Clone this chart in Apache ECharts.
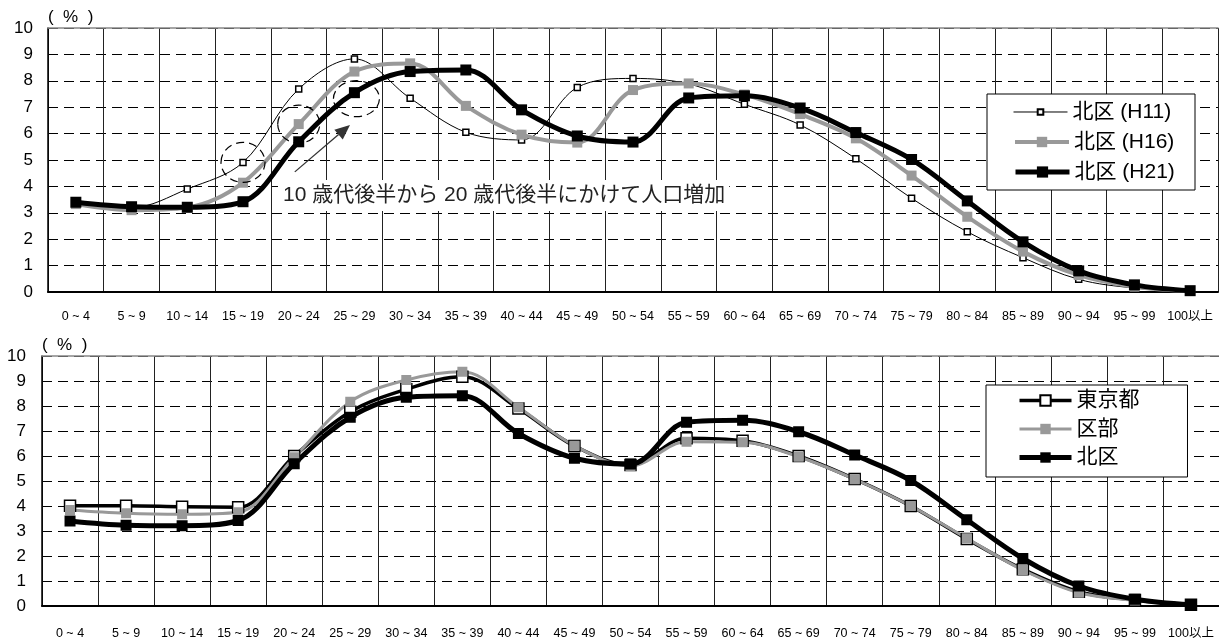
<!DOCTYPE html>
<html>
<head>
<meta charset="utf-8">
<script src="https://cdn.jsdelivr.net/npm/echarts@6/dist/echarts.min.js"></script>
<style>
  html, body { margin: 0; padding: 0; background: #fff; }
  #chart { width: 1219px; height: 640px; }
</style>
</head>
<body>
<div id="chart"></div>
<script>
// Age groups (5-year bands)
const ages = ['0 ~ 4', '5 ~ 9', '10 ~ 14', '15 ~ 19', '20 ~ 24', '25 ~ 29', '30 ~ 34',
  '35 ~ 39', '40 ~ 44', '45 ~ 49', '50 ~ 54', '55 ~ 59', '60 ~ 64', '65 ~ 69',
  '70 ~ 74', '75 ~ 79', '80 ~ 84', '85 ~ 89', '90 ~ 94', '95 ~ 99', '100以上'];

// Share of population by age group (%) — Kita ward, three survey years
const kitaH11 = [3.35, 3.20, 3.90, 4.91, 7.69, 8.83, 7.34, 6.05, 5.76, 7.75, 8.09,
  7.88, 7.11, 6.33, 5.05, 3.55, 2.28, 1.30, 0.48, 0.15, 0.03];
const kitaH16 = [3.33, 3.10, 3.20, 4.14, 6.36, 8.35, 8.66, 7.05, 5.96, 5.66, 7.65,
  7.90, 7.48, 6.74, 5.82, 4.41, 2.85, 1.53, 0.64, 0.20, 0.04];
const kitaH21 = [3.40, 3.23, 3.21, 3.42, 5.69, 7.55, 8.35, 8.41, 6.90, 5.91, 5.68,
  7.35, 7.43, 6.97, 6.04, 5.02, 3.45, 1.90, 0.80, 0.27, 0.05];

// Share of population by age group (%) — Tokyo, 23 wards, Kita ward (H21)
const tokyo = [4.01, 4.01, 3.97, 3.95, 6.00, 7.77, 8.67, 9.17, 7.90, 6.40, 5.64,
  6.71, 6.61, 6.00, 5.08, 4.00, 2.68, 1.47, 0.57, 0.24, 0.05];
const kubu = [3.84, 3.71, 3.67, 3.75, 5.95, 8.17, 9.04, 9.37, 7.95, 6.41, 5.60,
  6.57, 6.55, 5.97, 5.07, 4.00, 2.71, 1.44, 0.53, 0.22, 0.04];
const kita = kitaH21;

const yTicks = { min: 0, max: 10, interval: 1 };

const FONT = "'Liberation Sans', 'Noto Sans CJK JP', sans-serif";
const SMOOTH = 0.35;

function bottomAxis(gridIndex, labelMargin) {
  return {
    type: 'category', gridIndex, data: ages, boundaryGap: true, position: 'bottom',
    axisLine: { show: true, lineStyle: { color: '#000', width: 2 } },
    axisTick: { show: false },
    axisLabel: { interval: 0, fontSize: 12.5, color: '#000', fontFamily: FONT, margin: labelMargin },
    splitLine: { show: true, interval: 0, lineStyle: { color: '#222', width: 1 } }
  };
}
function topBorder(gridIndex) {
  return {
    type: 'category', gridIndex, data: ages, position: 'top',
    axisLine: { show: true, lineStyle: { color: '#888', width: 1.5 } },
    axisTick: { show: false }, axisLabel: { show: false }, splitLine: { show: false }
  };
}
function valueAxis(gridIndex, labelMargin) {
  return {
    type: 'value', gridIndex, min: yTicks.min, max: yTicks.max, interval: yTicks.interval,
    name: '(  %  )', nameLocation: 'end', nameGap: 2,
    nameTextStyle: { fontSize: 17, color: '#000', fontFamily: FONT, align: 'left', verticalAlign: 'bottom', padding: [0, 0, 0, 0] },
    axisLine: { show: true, lineStyle: { color: '#000', width: 1.5 } },
    axisTick: { show: false },
    axisLabel: { fontSize: 17, color: '#000', fontFamily: FONT, margin: labelMargin },
    splitLine: { show: true, lineStyle: { color: '#000', width: 1, type: [10, 6] } }
  };
}
function line(name, data, axis, color, width, symSize, fill, border) {
  return {
    name, type: 'line', data, xAxisIndex: axis, yAxisIndex: axis,
    smooth: SMOOTH, symbol: 'rect', symbolSize: symSize, showSymbol: true,
    lineStyle: { color, width },
    itemStyle: { color: fill, borderColor: border || fill, borderWidth: border ? 1.5 : 0 },
    emphasis: { disabled: true }
  };
}

const legendText = { fontSize: 21, color: '#000', fontFamily: FONT };
function singleLegend(name, top, itemHeight) {
  return {
    data: [name], left: 1013, top, orient: 'vertical', padding: 0,
    itemWidth: 54, itemHeight, selectedMode: false, textStyle: legendText,
    lineStyle: { width: 'inherit' }, z: 4
  };
}

const chart = echarts.init(document.getElementById('chart'), null, { renderer: 'canvas' });

chart.setOption({
  animation: false,
  backgroundColor: '#fff',
  grid: [
    { left: 48, right: 1, top: 28, bottom: 348 },
    { left: 42, right: 0, top: 356, bottom: 34 }
  ],
  xAxis: [bottomAxis(0, 18), bottomAxis(1, 21), topBorder(0), topBorder(1)],
  yAxis: [valueAxis(0, 15), valueAxis(1, 16)],
  legend: [
    singleLegend('北区 (H11)', 101.5, 7),
    singleLegend('北区 (H16)', 131.5, 13),
    singleLegend('北区 (H21)', 161.5, 14),
    {
      data: ['東京都', '区部', '北区'], left: 986, top: 385, orient: 'vertical',
      padding: [5, 48, 9, 31], itemGap: 7.5, itemWidth: 52, itemHeight: 13,
      backgroundColor: '#fff', borderColor: '#000', borderWidth: 1,
      selectedMode: false, textStyle: legendText,
      lineStyle: { width: 'inherit' }, z: 4
    }
  ],
  series: [
    line('北区 (H11)', kitaH11, 0, '#000', 1, 6, '#fff', '#000'),
    line('北区 (H16)', kitaH16, 0, '#999', 4, 10, '#999'),
    line('北区 (H21)', kitaH21, 0, '#000', 5, 11, '#000'),
    line('東京都', tokyo, 1, '#000', 3.5, 11, '#fff', '#000'),
    line('区部', kubu, 1, '#999', 3, 10, '#999'),
    line('北区', kita, 1, '#000', 5, 11, '#000')
  ]
});

// Annotation layer for the upper chart: circled growth points, arrow and note
const px = (i, v) => chart.convertToPixel({ xAxisIndex: 0, yAxisIndex: 0 }, [i, v]);
const origin = px(0, 0);
const step = px(1, 0)[0] - origin[0];
const X = f => origin[0] + f * step;
const Y = v => px(0, v)[1];

function ring(cx, cy, rx, ry) {
  return {
    type: 'ellipse', z: 5, silent: true,
    shape: { cx, cy, rx, ry },
    style: { fill: 'none', stroke: '#000', lineWidth: 1.2, lineDash: [8, 5] }
  };
}

const a0 = [X(3.93), Y(4.55)];
const a1 = [X(4.92), Y(6.33)];
const dx = a1[0] - a0[0], dy = a1[1] - a0[1];
const len = Math.hypot(dx, dy);
const ux = dx / len, uy = dy / len;
const headLen = 15, headHalf = 6.5;
const base = [a1[0] - ux * headLen, a1[1] - uy * headLen];

chart.setOption({
  graphic: [
    {
      type: 'rect', z: 3, silent: true,
      shape: { x: 987, y: 94, width: 208, height: 96 },
      style: { fill: '#fff', stroke: '#000', lineWidth: 1 }
    },
    ring(X(3), Y(kitaH11[3]), 22, 20),
    ring(X(4), Y(kitaH16[4]), 21, 19),
    ring(X(5) + 2, Y(kitaH21[5]) + 6, 23, 18),
    {
      type: 'line', z: 5, silent: true,
      shape: { x1: a0[0], y1: a0[1], x2: base[0], y2: base[1] },
      style: { stroke: '#333', lineWidth: 1.3 }
    },
    {
      type: 'polygon', z: 5, silent: true,
      shape: { points: [a1, [base[0] - uy * headHalf, base[1] + ux * headHalf], [base[0] + uy * headHalf, base[1] - ux * headHalf]] },
      style: { fill: '#333' }
    },
    {
      type: 'text', z: 3, silent: true, left: 278, top: 180,
      style: {
        text: '10 歳代後半から 20 歳代後半にかけて人口増加',
        fontSize: 21, fontFamily: FONT, fill: '#222',
        backgroundColor: '#fff', padding: [5, 4, 5, 5]
      }
    }
  ]
});
</script>
</body>
</html>
